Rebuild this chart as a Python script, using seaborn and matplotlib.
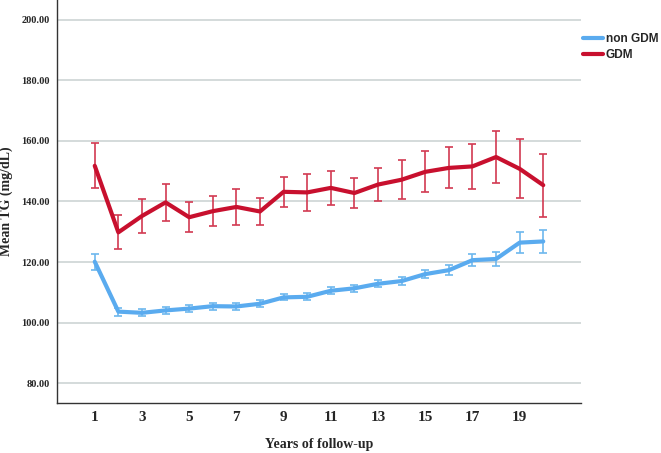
import numpy as np
import pandas as pd
import matplotlib
matplotlib.use("Agg")
import matplotlib.pyplot as plt
import seaborn as sns

# Datos
anios = list(range(1, 21))
tg_no_gdm = [120.1, 103.6, 103.2, 104.0, 104.6, 105.4, 105.3, 106.2, 108.3, 108.5,
             110.5, 111.3, 112.8, 113.7, 116.0, 117.3, 120.6, 121.0, 126.4, 126.8]
err_no_gdm = [2.7, 1.3, 1.2, 1.1, 1.2, 1.1, 1.0, 1.1, 1.0, 1.1,
              1.1, 1.1, 1.2, 1.3, 1.4, 1.6, 2.0, 2.2, 3.5, 3.9]
tg_gdm = [151.8, 129.8, 135.2, 139.7, 134.8, 136.8, 138.2, 136.7, 143.2, 143.0,
          144.5, 142.8, 145.6, 147.2, 149.8, 151.1, 151.6, 154.7, 150.8, 145.4]
err_gdm = [7.4, 5.6, 5.5, 6.1, 4.9, 5.0, 6.0, 4.5, 5.0, 6.0,
           5.5, 5.0, 5.6, 6.4, 6.8, 6.8, 7.4, 8.6, 9.7, 10.4]
grupos = ["non GDM", "GDM"]
ticks_x = list(range(1, 20, 2))
ticks_y = [80, 100, 120, 140, 160, 180, 200]

datos = pd.DataFrame({
    "Years": anios * 2,
    "TG": tg_no_gdm + tg_gdm,
    "err": err_no_gdm + err_gdm,
    "grupo": [grupos[0]] * len(anios) + [grupos[1]] * len(anios),
})

colores = {"non GDM": "#5aabef", "GDM": "#c8102e"}
colores_err = {"non GDM": "#6db7ee", "GDM": "#d23a52"}

sns.set_style("white")
plt.rcParams["font.family"] = ["Liberation Serif", "DejaVu Serif"]

fig = plt.figure(figsize=(6.61, 4.53), dpi=100)
ax = fig.add_axes([0.0862, 0.1104, 0.7928, 0.8896])

for g in grupos:
    sub = datos[datos["grupo"] == g]
    ax.errorbar(sub["Years"], sub["TG"], yerr=sub["err"], fmt="none",
                ecolor=colores_err[g], elinewidth=1.2, capsize=3.2,
                capthick=1.2, zorder=3)

sns.lineplot(data=datos, x="Years", y="TG", hue="grupo", hue_order=grupos,
             palette=colores, linewidth=3, ax=ax, legend=False, zorder=4)

ax.set_xlim(-0.6, 21.6)
ax.set_ylim(73.4, 206.6)
ax.set_xticks(ticks_x)
ax.set_xticklabels([str(t) for t in ticks_x], fontsize=11, fontweight="bold")
ax.set_yticks(ticks_y)
ax.set_yticklabels([f"{t:.2f}" for t in ticks_y], fontsize=7.5, fontweight="bold")
ax.tick_params(axis="both", length=0)
ax.tick_params(axis="x", pad=6)
ax.tick_params(axis="y", pad=5)
ax.grid(axis="y", color="#c9d1d1", linewidth=1.1)
ax.set_axisbelow(True)

for lado in ["top", "right"]:
    ax.spines[lado].set_visible(False)
for lado in ["left", "bottom"]:
    ax.spines[lado].set_color("#333333")
    ax.spines[lado].set_linewidth(1.0)

ax.set_xlabel("Years of follow-up", fontsize=10, fontweight="bold")
ax.xaxis.set_label_coords(0.5, -0.088)
ax.set_ylabel("Mean TG (mg/dL)", fontsize=10, fontweight="bold")
ax.yaxis.set_label_coords(-0.083, 0.5)

manejadores = [plt.Line2D([], [], color=colores[g], linewidth=3) for g in grupos]
fig.legend(manejadores, grupos, loc="upper left", bbox_to_anchor=(0.879, 0.932),
           frameon=False, handlelength=1.6, handletextpad=0.25, labelspacing=0.35,
           borderaxespad=0, borderpad=0.2,
           prop={"family": "Liberation Sans", "weight": "bold", "size": 8.6})

fig.savefig("out.png", dpi=100)
